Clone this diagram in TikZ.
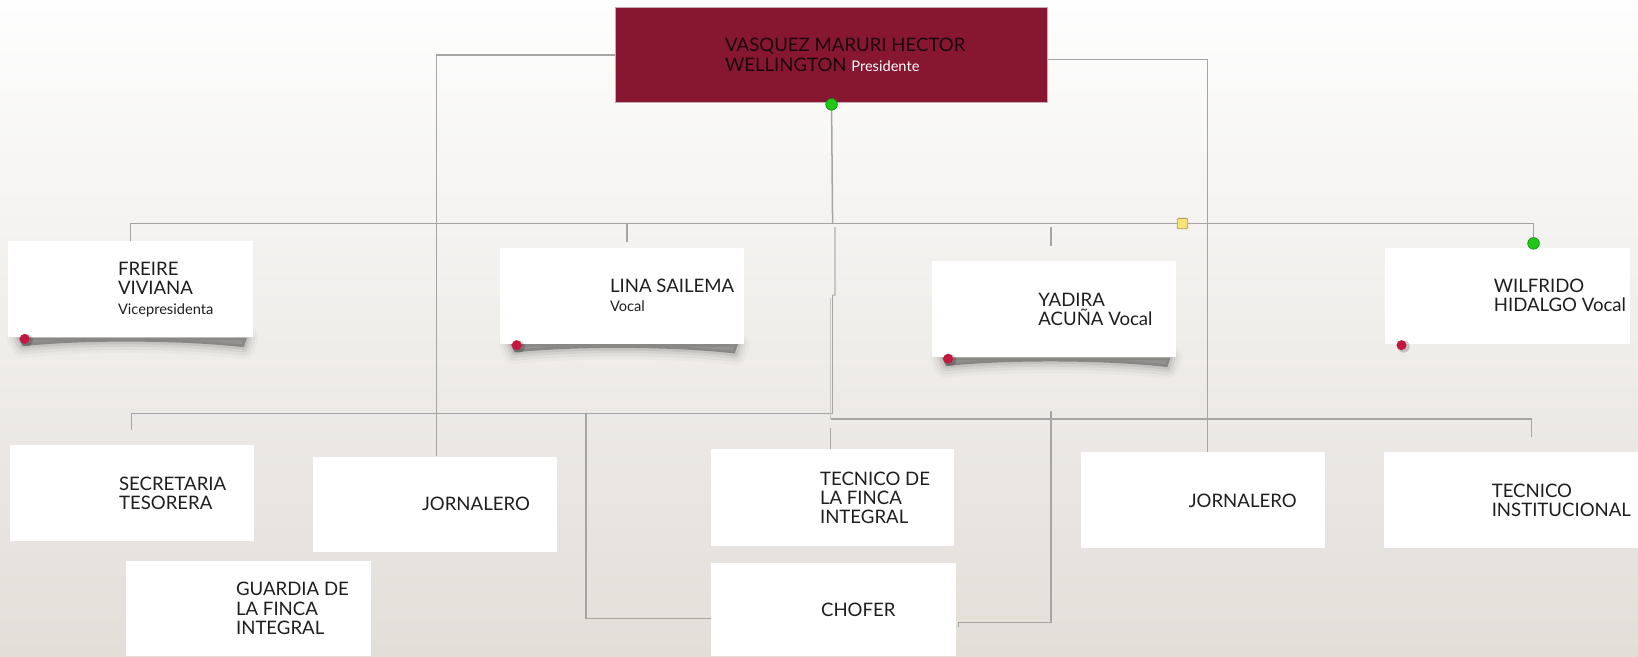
\documentclass[tikz,border=0pt]{standalone}
\usepackage{fontspec}
\setmainfont{Lato}
\usetikzlibrary{fit,calc}
\pgfdeclarelayer{back}
\pgfdeclarelayer{lines}
\pgfdeclarelayer{shad}
\pgfsetlayers{back,lines,shad,main}
\definecolor{bgtop}{RGB}{254,254,254}
\definecolor{bgbot}{RGB}{226,222,216}
\definecolor{pres}{RGB}{135,22,48}
\definecolor{presedge}{RGB}{200,170,180}
\definecolor{linec}{RGB}{165,165,165}
\definecolor{linel}{RGB}{198,198,198}
\definecolor{reddot}{RGB}{195,25,65}
\definecolor{greendot}{RGB}{30,200,20}
\definecolor{greenedge}{RGB}{25,130,25}
\definecolor{yel}{RGB}{250,226,120}
\definecolor{yeledge}{RGB}{175,160,100}
\definecolor{txt}{RGB}{30,30,30}
\definecolor{prestxt}{RGB}{25,8,12}
\newcommand\mainsize{\fontsize{8.9}{9.2}\selectfont}
\newcommand\smallsz{\fontsize{7}{9.2}\selectfont}
\tikzset{
 conn/.style={draw=linec, line width=0.72pt},
 connlight/.style={draw=linel, line width=0.9pt},
 card/.style={fill=white, draw=none, inner sep=0pt},
 presbox/.style={fill=pres, draw=presedge, line width=0.3pt, inner sep=0pt},
 lbl/.style={anchor=west, inner sep=0pt, align=left, text=txt, font=\mainsize},
 rdot/.style={circle, fill=reddot, inner sep=0pt, minimum size=4.8pt},
 rdotsh/.style={circle, fill=black, opacity=0.18, inner sep=0pt, minimum size=5.8pt},
 gdot/.style={circle, fill=greendot, draw=greenedge, line width=0.3pt, inner sep=0pt, minimum size=5.6pt},
 ysq/.style={rectangle, rounded corners=0.6pt, fill=yel, draw=yeledge, line width=0.4pt, inner sep=0pt, minimum size=5pt},
}
\newcommand\curlpath[1]{($(#1.south west)+(10,0)$) -- ($(#1.south east)+(-6,0)$) -- ($(#1.south east)+(-9,9)$)
      .. controls ($(#1.south east)+(-70,2)$) and ($(#1.south west)+(70,2)$) .. ($(#1.south west)+(14,8)$) -- cycle}
\newcommand\curlshadow[1]{%
  \foreach \lw/\op in {11pt/0.025, 8pt/0.035, 5pt/0.05, 2.5pt/0.07}{%
    \draw[line width=\lw, opacity=\op, line join=round] \curlpath{#1};}
  \fill[black, opacity=0.3] \curlpath{#1};}
\begin{document}
\begin{tikzpicture}[x=0.5pt,y=-0.5pt]
\useasboundingbox (0,0) rectangle (1568,628);
\begin{pgfonlayer}{back}
\fill[top color=bgtop, bottom color=bgbot] (0,0) rectangle (1568,628);
\end{pgfonlayer}

% ---- boxes ----
\node[presbox, fit={(589,7) (1003,98)}] (p) {};
\node[card, fit={(8,231) (242,323)}] (f) {};
\node[card, fit={(479,237) (712,329)}] (l) {};
\node[card, fit={(892,250) (1126,342)}] (y) {};
\node[card, fit={(1326,237) (1560,329)}] (w) {};
\node[card, fit={(10,426) (243,518)}] (s) {};
\node[card, fit={(300,437) (533,528)}] (j1) {};
\node[card, fit={(681,430) (913,523)}] (tf) {};
\node[card, fit={(1035,433) (1268,525)}] (j2) {};
\node[card, fit={(1325,433) (1580,525)}] (ti) {};
\node[card, fit={(121,537) (355,628)}] (g) {};
\node[card, fit={(681,539) (915,628)}] (ch) {};

% ---- texts ----
\node[lbl, text=prestxt] (p-t) at ([xshift=52.5pt]p.west) {VASQUEZ MARURI HECTOR\\WELLINGTON {\smallsz\color{white}Presidente}};
\node[lbl] (f-t) at ([xshift=52.5pt]f.west) {FREIRE\\VIVIANA\\{\smallsz Vicepresidenta}};
\node[lbl] (l-t) at ([xshift=52.5pt]l.west) {LINA SAILEMA\\{\smallsz Vocal}};
\node[lbl] (y-t) at ([xshift=51pt]y.west) {YADIRA\\ACUÑA Vocal};
\node[lbl] (w-t) at ([xshift=52pt]w.west) {WILFRIDO\\HIDALGO Vocal};
\node[lbl] (s-t) at ([xshift=52pt]s.west) {SECRETARIA\\TESORERA};
\node[lbl] (j1-t) at ([xshift=52pt]j1.west) {JORNALERO};
\node[lbl] (tf-t) at ([xshift=52pt]tf.west) {TECNICO DE\\LA FINCA\\INTEGRAL};
\node[lbl] (j2-t) at ([xshift=51.5pt]j2.west) {JORNALERO};
\node[lbl] (ti-t) at ([xshift=51.5pt]ti.west) {TECNICO\\INSTITUCIONAL};
\node[lbl] (g-t) at ([xshift=52.5pt]g.west) {GUARDIA DE\\LA FINCA\\INTEGRAL};
\node[lbl] (ch-t) at ([xshift=52.5pt]ch.west) {CHOFER};

% ---- connector points ----
\coordinate (bus) at (797,214);
\coordinate (busR) at (1468,214);
\coordinate (wd) at (1468,233);
\coordinate (lt) at (600,232);
\coordinate (yt) at (1006,235);
\coordinate (m1) at (799,217);
\coordinate (m2) at (799,282);
\coordinate (m3) at (797,282);
\coordinate (lbus) at (797,396);
\coordinate (st) at (126,412);
\coordinate (r1) at (795,285);
\coordinate (rbus) at (795,401);
\coordinate (tit) at (1466,418);
\coordinate (tft) at (795,410);
\coordinate (cl) at (561,396);
\coordinate (cr) at (1006,393);

\begin{pgfonlayer}{lines}
\draw[conn] (p.south) -- (bus);
\draw[conn] (f.north) |- (busR) -- (wd);
\draw[conn] (lt) -- (lt |- bus);
\draw[conn] (yt) -- ($(yt |- bus)+(0,3)$);
\draw[conn] (p.west) -| ([xshift=0.75pt]j1.north);
\draw[conn] ([xshift=-0.6pt,yshift=3.25pt]p.east) -- ([xshift=-0.6pt,yshift=-2.25pt]p.east) -| ([xshift=2.25pt]j2.north);
\draw[connlight] (m1) -- (m2) -- (m3);
\draw[conn] (m3) -- (lbus) -| (st);
\draw[connlight] (r1) -- (rbus);
\draw[conn] (rbus) -| (tit);
\draw[conn] (tft) -- (tft |- tf.north);
\draw[conn] (cl) |- ([yshift=-4.25pt]ch.west);
\draw[conn] (cr) |- ([xshift=1pt,yshift=-6.25pt]ch.east) -- ++(0,4);
\end{pgfonlayer}

% ---- shadows ----
\begin{pgfonlayer}{shad}
\curlshadow{f}
\curlshadow{l}
\curlshadow{y}
\end{pgfonlayer}

% ---- markers ----
\node[gdot] (gp) at ([yshift=-0.8pt]p.south) {};
\node[gdot] (gw) at (wd) {};
\node[ysq] (ys) at (1132,214) {};
\foreach \b in {f,l,y,w}{
  \node[rdotsh] (\b-ds) at ([xshift=9pt,yshift=-1.2pt]\b.south west) {};
  \node[rdot] (\b-d) at ([xshift=8pt,yshift=-0.5pt]\b.south west) {};
}
\end{tikzpicture}
\end{document}
